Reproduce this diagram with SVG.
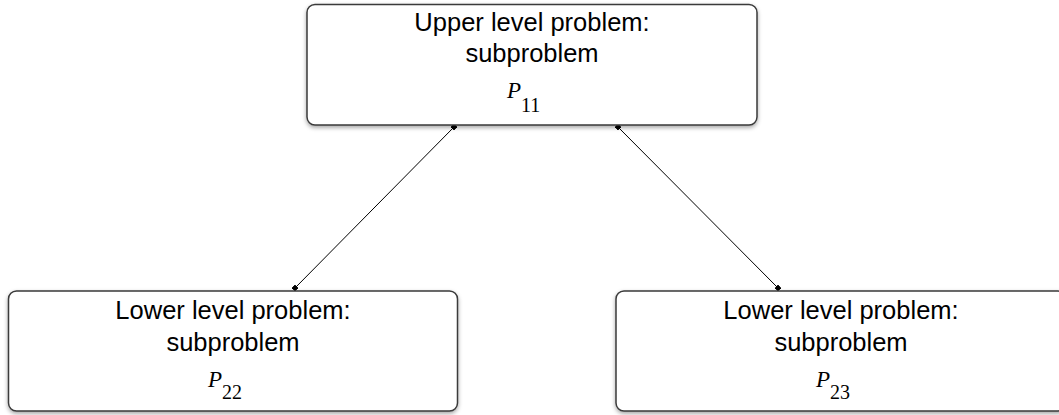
<svg xmlns="http://www.w3.org/2000/svg" width="1059" height="415" viewBox="0 0 1059 415">
  <style>
    .box { fill: #ffffff; stroke: #3a3a3a; stroke-width: 1.5; filter: url(#shadow); }
    .lbl { font-family: "Liberation Sans", Arial, sans-serif; font-size: 25.5px; fill: #000; text-anchor: middle; }
    .var { font-family: "Liberation Serif", "Times New Roman", serif; font-style: italic; font-size: 23px; fill: #000; }
    .sub { font-family: "Liberation Serif", "Times New Roman", serif; font-size: 20px; fill: #000; }
    .edge { stroke: #000; stroke-width: 1; fill: none; marker-start: url(#sq); marker-end: url(#sq); }
  </style>
  <defs>
    <filter id="shadow" x="-5%" y="-10%" width="110%" height="130%">
      <feDropShadow dx="0" dy="2" stdDeviation="2" flood-color="#000" flood-opacity="0.35"/>
    </filter>
    <marker id="sq" markerWidth="5" markerHeight="5" refX="2.5" refY="2.5" markerUnits="userSpaceOnUse" orient="auto">
      <rect x="0" y="0" width="5" height="5" fill="#000"/>
    </marker>
  </defs>
  <rect width="1059" height="415" fill="#ffffff"/>

  <g id="connectors">
    <line class="edge" x1="454" y1="127" x2="295" y2="288"/>
    <line class="edge" x1="618" y1="127" x2="778" y2="288"/>
  </g>

  <g id="node-p11">
    <rect class="box" x="307" y="4.5" width="450" height="120.5" rx="8" ry="8"/>
    <text class="lbl" x="532" y="31">Upper level problem:</text>
    <text class="lbl" x="532" y="62">subproblem</text>
    <text class="var" x="507" y="98">P</text>
    <text class="sub" x="521" y="112">11</text>
  </g>

  <g id="node-p22">
    <rect class="box" x="8.5" y="291" width="449" height="120" rx="8" ry="8"/>
    <text class="lbl" x="233" y="319">Lower level problem:</text>
    <text class="lbl" x="233" y="351">subproblem</text>
    <text class="var" x="208" y="387">P</text>
    <text class="sub" x="222" y="399">22</text>
  </g>

  <g id="node-p23">
    <rect class="box" x="616" y="291" width="450" height="120" rx="8" ry="8"/>
    <text class="lbl" x="841" y="319">Lower level problem:</text>
    <text class="lbl" x="841" y="351">subproblem</text>
    <text class="var" x="816" y="387">P</text>
    <text class="sub" x="830" y="399">23</text>
  </g>
</svg>
